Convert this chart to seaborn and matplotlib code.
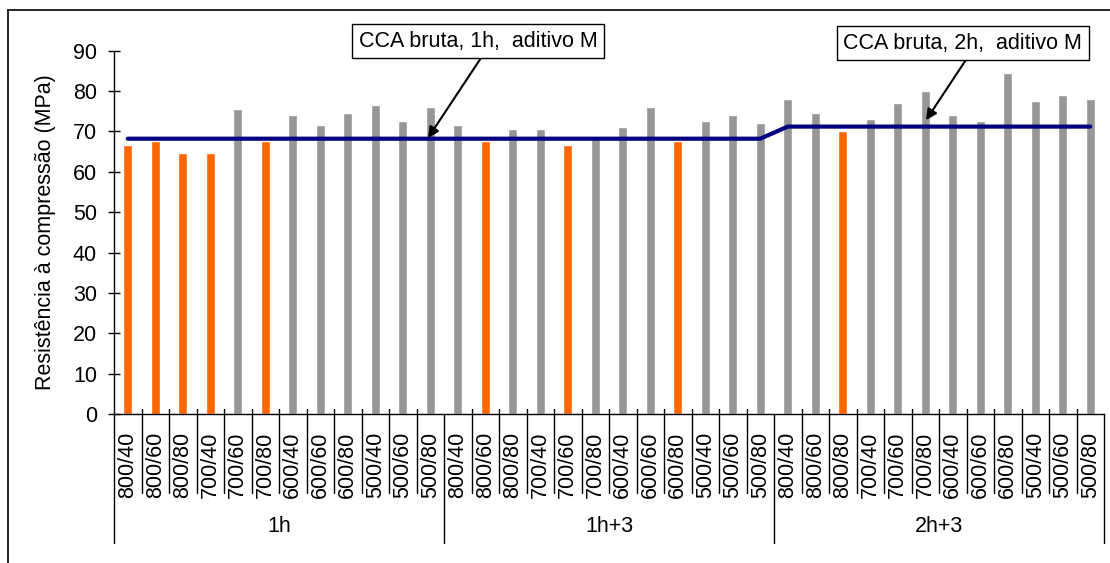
import pandas as pd
import matplotlib.pyplot as plt
import matplotlib.transforms as mtransforms
from matplotlib.lines import Line2D
import seaborn as sns

# --- Data ---
sizes = ["800/40", "800/60", "800/80", "700/40", "700/60", "700/80",
         "600/40", "600/60", "600/80", "500/40", "500/60", "500/80"]
groups = ["1h", "1h+3", "2h+3"]

values_1h = [66.6, 67.7, 64.7, 64.7, 75.5, 67.7, 74.1, 71.6, 74.6, 76.5, 72.6, 76.0]
values_1h3 = [71.6, 67.7, 70.6, 70.6, 66.6, 68.5, 71.1, 76.0, 67.7, 72.6, 74.1, 72.1]
values_2h3 = [78.0, 74.6, 70.1, 73.1, 77.0, 80.0, 74.1, 72.6, 84.5, 77.5, 79.0, 78.0]

# bars below the reference (orange)
low_1h = [True, True, True, True, False, True, False, False, False, False, False, False]
low_1h3 = [False, True, False, False, True, False, False, False, True, False, False, False]
low_2h3 = [False, False, True, False, False, False, False, False, False, False, False, False]

# reference: CCA bruta + aditivo M
ref_level = {"1h": 68.2, "1h+3": 68.2, "2h+3": 71.2}

# --- Build table ---
rows = []
for g, vals, lows in zip(groups, [values_1h, values_1h3, values_2h3], [low_1h, low_1h3, low_2h3]):
    for s, v, lo in zip(sizes, vals, lows):
        rows.append({"key": g + " " + s, "grupo": g, "amostra": s,
                     "resistencia": v, "baixo": "sim" if lo else "nao",
                     "ref": ref_level[g]})
df = pd.DataFrame(rows)
df["pos"] = range(len(df))

sns.set_style("white")
plt.rcParams["font.family"] = ["Liberation Sans", "DejaVu Sans"]
plt.rcParams["font.size"] = 15.5
for key in ["text.color", "axes.labelcolor", "xtick.color", "ytick.color"]:
    plt.rcParams[key] = "black"
fs = 15.5

fig = plt.figure(figsize=(11.1, 5.63), dpi=100)
ax = fig.add_axes([114 / 1110, 149 / 563, 990 / 1110, 363.3 / 563])

sns.barplot(data=df, x="key", y="resistencia", hue="baixo", order=df["key"],
            palette={"sim": "#FF6600", "nao": "#969696"}, dodge=False,
            width=0.33, legend=False, saturation=1, ax=ax)
sns.lineplot(data=df, x="pos", y="ref", color="#000080", linewidth=3, ax=ax)

ax.set_xlim(-0.5, len(df) - 0.5)
ax.set_ylim(0, 90)
ax.set_yticks(range(0, 91, 10))
ax.set_ylabel("Resistência à compressão (MPa)", labelpad=12, fontsize=fs)
ax.set_xlabel("")

for side in ["top", "right"]:
    ax.spines[side].set_visible(False)
for side in ["left", "bottom"]:
    ax.spines[side].set_color("black")
    ax.spines[side].set_linewidth(1)

ax.tick_params(axis="y", direction="inout", length=8.6, width=1, color="black", pad=8, left=True, labelsize=fs)
ax.set_xticks(df["pos"])
ax.set_xticklabels(df["amostra"], rotation=90)
ax.tick_params(axis="x", length=0, pad=13, labelsize=fs)

# category separators and group separators under the axis
trans = mtransforms.blended_transform_factory(ax.transData, ax.transAxes)
n = len(sizes)
for i in range(len(df) + 1):
    b = i - 0.5
    if i % n == 0:
        ax.plot([b, b], [0.0, -0.355], color="black", lw=1, transform=trans, clip_on=False)
    else:
        ax.plot([b, b], [0.0138, -0.2175], color="black", lw=1, transform=trans, clip_on=False)
for k, g in enumerate(groups):
    ax.text(k * n + (n - 1) / 2, -0.311, g, transform=trans, ha="center", va="center", fontsize=fs)

# annotations
box = dict(boxstyle="square,pad=0.3", fc="white", ec="black", lw=1)
arrow = dict(arrowstyle="-|>", color="black", lw=1.5, mutation_scale=16, relpos=(0.53, 0), shrinkA=0, shrinkB=0)
ax.annotate("CCA bruta, 1h,  aditivo M", xy=(10.92, 68.4), xytext=(12.74, 92.4),
            ha="center", va="center", bbox=box, arrowprops=arrow, annotation_clip=False, fontsize=fs)
ax.annotate("CCA bruta, 2h,  aditivo M", xy=(29.03, 72.8), xytext=(30.37, 91.9),
            ha="center", va="center", bbox=box, arrowprops=arrow, annotation_clip=False, fontsize=fs)

# outer chart frame
fig.add_artist(Line2D([8 / 1110, 8 / 1110], [0, 1 - 10 / 563], color="black", lw=1.2, transform=fig.transFigure))
fig.add_artist(Line2D([8 / 1110, 1], [1 - 10 / 563, 1 - 10 / 563], color="black", lw=1.2, transform=fig.transFigure))

fig.savefig("out.png", dpi=100)
